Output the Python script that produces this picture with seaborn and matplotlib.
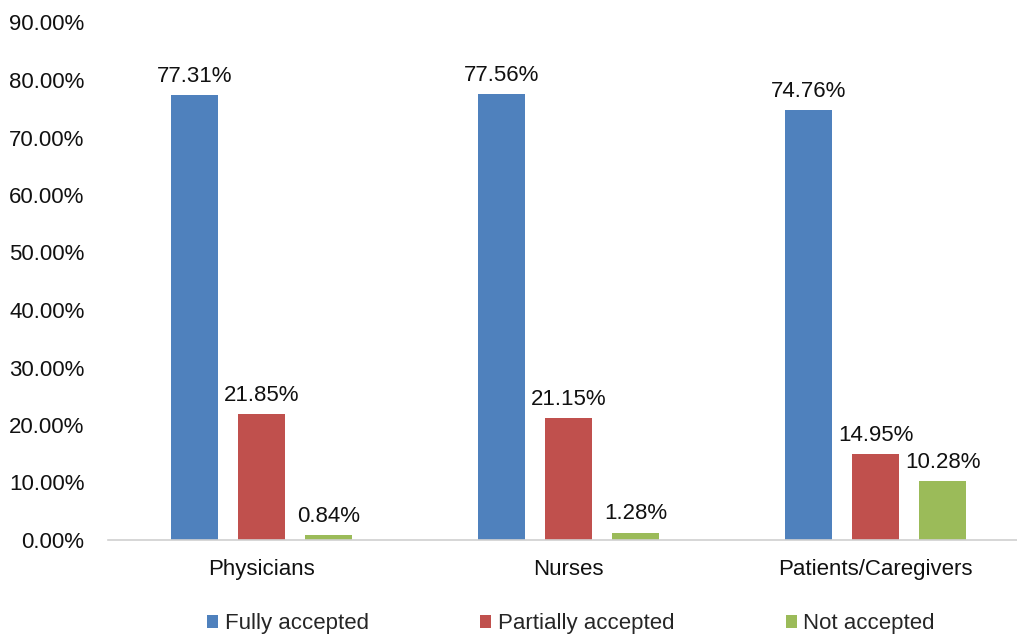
import matplotlib
matplotlib.use("Agg")
import matplotlib.pyplot as plt
import seaborn as sns
import pandas as pd
from matplotlib.ticker import FuncFormatter

groups = ["Physicians", "Nurses", "Patients/Caregivers"]
series = ["Fully accepted", "Partially accepted", "Not accepted"]
fully = [77.31, 77.56, 74.76]
partially = [21.85, 21.15, 14.95]
not_acc = [0.84, 1.28, 10.28]
colors = ["#4F81BD", "#C0504D", "#9BBB59"]
y_ticks = [0, 10, 20, 30, 40, 50, 60, 70, 80, 90]

rows = []
for name, vals in zip(series, [fully, partially, not_acc]):
    for g, v in zip(groups, vals):
        rows.append({"group": g, "status": name, "value": v})
df = pd.DataFrame(rows)

sns.set_theme(style="white")
plt.rcParams["font.family"] = ["Liberation Sans", "DejaVu Sans"]

FS = 16

fig = plt.figure(figsize=(10.17, 6.34), dpi=100)
ax = fig.add_axes([108 / 1017, (634 - 540) / 634, 921 / 1017, (540 - 22.5) / 634])

sns.barplot(data=df, x="group", y="value", hue="status", order=groups,
            hue_order=series, palette=colors, width=0.655, gap=0.3,
            saturation=1, ax=ax, legend=True, errorbar=None, linewidth=0)

for container in ax.containers:
    ax.bar_label(container, labels=[f"{v:.2f}%" for v in container.datavalues],
                 padding=6, fontsize=FS, color="#111111")

ax.set_ylim(0, 90)
ax.set_xlim(-0.5, 2.5)
ax.set_yticks(y_ticks)
ax.yaxis.set_major_formatter(FuncFormatter(lambda v, p: f"{v:.2f}%"))
ax.tick_params(axis="y", labelsize=FS, pad=17, colors="#111111", length=0)
ax.tick_params(axis="x", labelsize=FS, pad=14, colors="#111111", length=0)
ax.set_xlabel("")
ax.set_ylabel("")
for s in ["top", "right", "left"]:
    ax.spines[s].set_visible(False)
ax.spines["bottom"].set_color("#D0D0D0")
ax.spines["bottom"].set_linewidth(1.2)

ax.legend(loc="center", bbox_to_anchor=(571 / 1017, 10 / 634),
          bbox_transform=fig.transFigure, ncol=3, frameon=False,
          fontsize=FS, handlelength=0.5, handleheight=0.5,
          handletextpad=0.3, columnspacing=5.0)

fig.savefig("out.png", dpi=100)
